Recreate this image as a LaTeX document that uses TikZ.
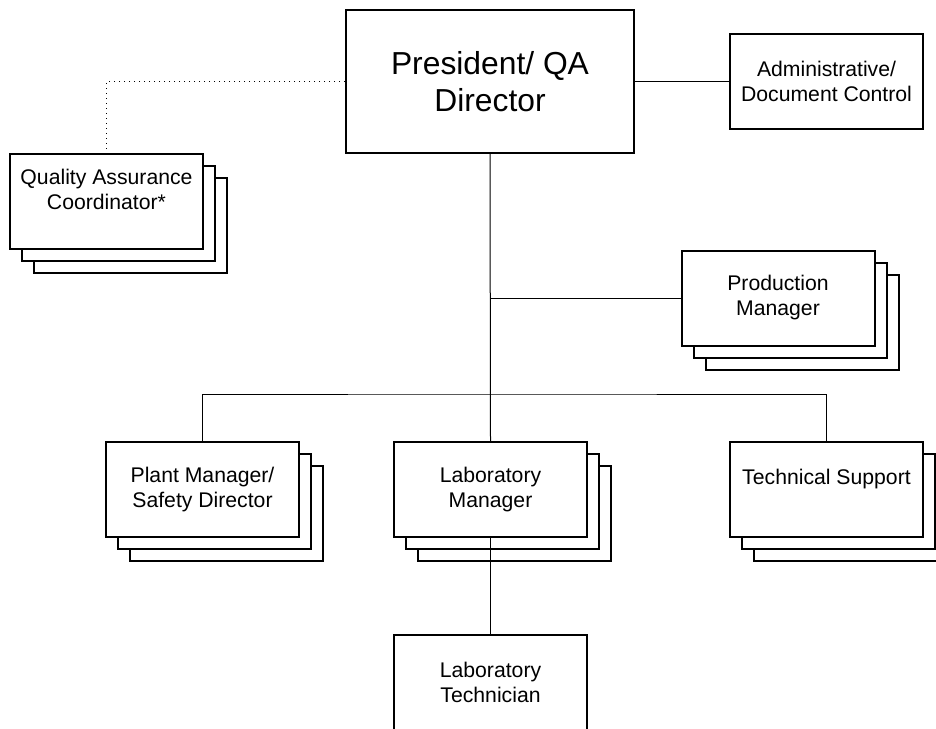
\documentclass[tikz,border=0pt]{standalone}
\usepackage{fontspec}
\setmainfont{Liberation Sans}
\usetikzlibrary{shadows}

\tikzset{
    post/.style={draw, line width=1pt, fill=white, align=center,
        minimum width=96.5pt, minimum height=47.5pt, inner sep=1pt,
        font=\fontsize{10.6pt}{12.5pt}\selectfont},
    stacked/.style={post, double copy shadow={shadow xshift=6pt, shadow yshift=-6pt}},
    head/.style={post, minimum width=144pt, minimum height=71.5pt,
        font=\fontsize{15.9pt}{18.5pt}\selectfont},
    link/.style={line width=0.5pt}
}

\begin{document}
\begin{tikzpicture}[x=0.5pt, y=-0.5pt]
    \useasboundingbox (0, 0) rectangle (936, 728);
    \node[head] (President) at (490, 81.5) {President/ QA\\Director};
    \node[post] (Admin) at (826.5, 81.5) {Administrative/\\Document Control};
    \node[stacked] (QACoord) at (106.5, 201.5) {Quality Assurance\\Coordinator*\\\mbox{}};
    \node[stacked] (ProdMgr) at (778, 298) {Production\\Manager};
    \node[stacked] (PlantMgr) at (202.5, 489.5) {Plant Manager/\\Safety Director};
    \node[stacked] (LabMgr) at (490.5, 489.5) {Laboratory\\Manager};
    \node[stacked] (TechSupport) at (826.5, 489.5) {Technical Support\\\mbox{}};
    \node[post] (LabTech) at (490.5, 682.5) {Laboratory\\Technician};
    \coordinate (ProdJoin) at (President.south |- ProdMgr.west);
    \coordinate (Bus) at (490.5, 394);
    \draw[link, dotted] (President.west) -| (QACoord.north);
    \draw[link] (President.east) -- (Admin.west);
    \draw[link] (President.south) -- (LabMgr.north);
    \draw[link] (ProdJoin) -- (ProdMgr.west);
    \draw[link] (PlantMgr.north) |- (Bus) -| (TechSupport.north);
    \draw[link] (LabMgr.south) -- (LabTech.north);
\end{tikzpicture}
\end{document}
